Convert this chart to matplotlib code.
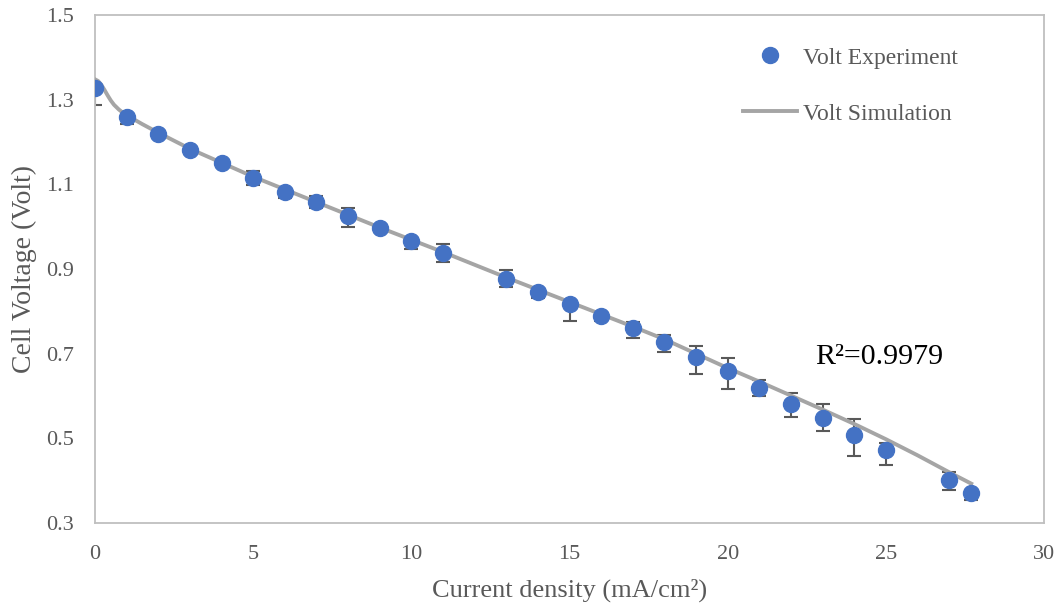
import matplotlib
matplotlib.use("Agg")
import matplotlib.pyplot as plt

# experimental points (current density mA/cm2, voltage V, error below, error above)
exp_x = [0, 1, 2, 3, 4, 5, 6, 7, 8, 9, 10, 11, 13, 14, 15, 16, 17, 18, 19, 20,
         21, 22, 23, 24, 25, 27, 27.7]
exp_v = [1.328, 1.258, 1.219, 1.181, 1.150, 1.115, 1.083, 1.058, 1.025, 0.997,
         0.967, 0.938, 0.877, 0.846, 0.817, 0.788, 0.760, 0.728, 0.693, 0.659,
         0.620, 0.580, 0.547, 0.508, 0.472, 0.401, 0.370]
err_lo = [0.040, 0.016, 0.005, 0.004, 0.004, 0.017, 0.015, 0.014, 0.025, 0.006,
          0.020, 0.022, 0.020, 0.014, 0.040, 0.012, 0.022, 0.025, 0.040, 0.042,
          0.020, 0.030, 0.030, 0.049, 0.034, 0.022, 0.016]
err_hi = [0.005, 0.005, 0.004, 0.004, 0.004, 0.016, 0.006, 0.015, 0.018, 0.004,
          0.004, 0.020, 0.021, 0.004, 0.005, 0.010, 0.014, 0.016, 0.025, 0.031,
          0.017, 0.027, 0.033, 0.038, 0.016, 0.020, 0.005]

# simulated curve
sim_x = [0, 0.1, 0.2, 0.3, 0.4, 0.5, 0.6, 0.75, 0.9, 1.1, 1.5, 2, 3, 5, 7, 9,
         11, 13, 15, 17, 18, 19, 20, 21, 22, 23, 24, 25, 26, 27, 27.7]
sim_v = [1.348, 1.344, 1.335, 1.323, 1.310, 1.298, 1.288, 1.277, 1.268, 1.259,
         1.242, 1.222, 1.184, 1.118, 1.058, 0.998, 0.940, 0.880, 0.822, 0.764,
         0.734, 0.700, 0.666, 0.634, 0.601, 0.568, 0.534, 0.498, 0.460, 0.420,
         0.393]

r2_text = "R\u00b2=0.9979"

plt.rcParams['font.family'] = ['Liberation Serif', 'DejaVu Serif']

fig = plt.figure(figsize=(10.61, 6.08), dpi=100)
ax = fig.add_axes([95 / 1061, 1 - 523 / 608, 949 / 1061, 508 / 608])

grey = "#595959"
ax.errorbar(exp_x, exp_v, yerr=[err_lo, err_hi], fmt="none", ecolor=grey,
            elinewidth=1.5, capsize=5, capthick=1.5, zorder=2)
ax.plot(sim_x, sim_v, color="#A5A5A5", lw=2.8, zorder=3, label="Volt Simulation")
ax.plot(exp_x, exp_v, "o", color="#4472C4", ms=11.5, zorder=4, label="Volt Experiment")

ax.set_xlim(0, 30)
ax.set_ylim(0.3, 1.5)
ax.set_xticks(range(0, 31, 5))
ax.set_yticks([0.3, 0.5, 0.7, 0.9, 1.1, 1.3, 1.5])
ax.set_yticklabels(["0.3", "0.5", "0.7", "0.9", "1.1", "1.3", "1.5"])
ax.tick_params(length=0, labelsize=16, labelcolor=grey)
ax.tick_params(axis="x", pad=16)
ax.tick_params(axis="y", pad=15)
for s in ax.spines.values():
    s.set_color("#BFBFBF")
    s.set_linewidth(1.3)

ax.set_xlabel("Current density (mA/cm\u00b2)", fontsize=19, color=grey, labelpad=10)
ax.set_ylabel("Cell Voltage (Volt)", fontsize=20, color=grey, labelpad=7)

ax.text(22.75, 0.692, r2_text, fontsize=21.5, color="black", va="center")

h, l = ax.get_legend_handles_labels()
leg = fig.legend(h[::-1], l[::-1], loc="upper left",
                 bbox_to_anchor=(743 / 1061, 1 - 47 / 608), frameon=False,
                 fontsize=17, handlelength=2.3, handletextpad=0.25,
                 labelspacing=1.47, borderpad=0, borderaxespad=0)
for t in leg.get_texts():
    t.set_color(grey)

fig.savefig("out.png", dpi=100)
